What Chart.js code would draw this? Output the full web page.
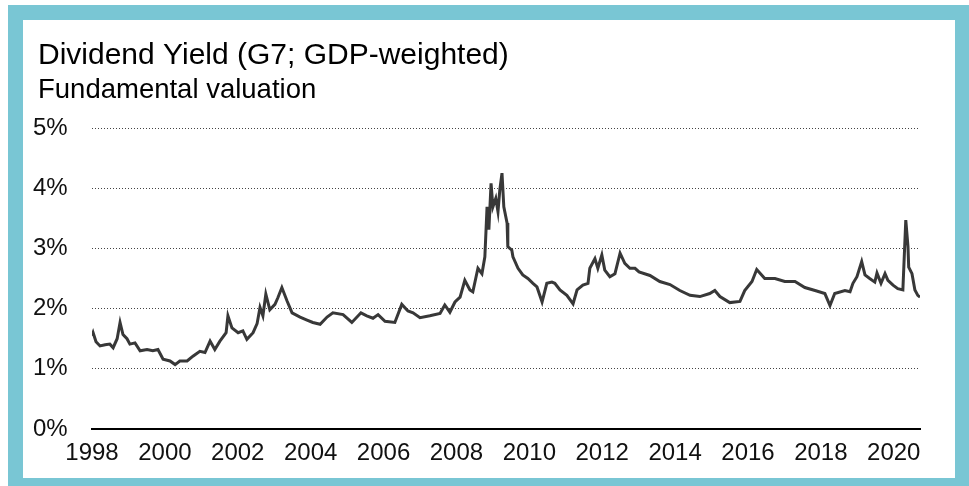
<!DOCTYPE html>
<html>
<head>
<meta charset="utf-8">
<script src="https://cdn.jsdelivr.net/npm/chart.js@4.4.1/dist/chart.umd.min.js"></script>
<style>
  body { margin: 0; width: 969px; height: 486px; overflow: hidden; background: #fff; position: relative; }
  #frame { position: absolute; left: 8px; top: 5px; width: 1000px; height: 520px; background: #79c6d4; }
  #inner { position: absolute; left: 23px; top: 20px; width: 932px; height: 458px; background: #fff; }
  #yieldChart { position: absolute; left: 23px; top: 20px; }
</style>
</head>
<body>
<div id="frame"></div>
<div id="inner"></div>
<canvas id="yieldChart" width="932" height="458"></canvas>
<script>
var titleText = 'Dividend Yield (G7; GDP-weighted)'
var subtitleText = 'Fundamental valuation'

// dates as decimal years, values in percent
var dates = [
  1998.00, 1998.03, 1998.11, 1998.22, 1998.36, 1998.49, 1998.58, 1998.69, 1998.77, 1998.85,
  1998.96, 1999.04, 1999.18, 1999.32, 1999.51, 1999.67, 1999.81, 1999.95, 2000.14, 2000.28,
  2000.41, 2000.61, 2000.77, 2000.96, 2001.10, 2001.24, 2001.37, 2001.51, 2001.68, 2001.73,
  2001.84, 2002.01, 2002.14, 2002.25, 2002.42, 2002.53, 2002.61, 2002.69, 2002.77, 2002.88,
  2003.02, 2003.10, 2003.21, 2003.35, 2003.49, 2003.71, 2003.90, 2004.06, 2004.26, 2004.45,
  2004.61, 2004.89, 2005.13, 2005.38, 2005.54, 2005.71, 2005.85, 2006.04, 2006.31, 2006.50,
  2006.67, 2006.81, 2007.00, 2007.27, 2007.55, 2007.68, 2007.82, 2007.96, 2008.10, 2008.23,
  2008.37, 2008.45, 2008.59, 2008.70, 2008.78, 2008.84, 2008.89, 2008.95, 2009.00, 2009.08,
  2009.14, 2009.19, 2009.25, 2009.30, 2009.39, 2009.41, 2009.52, 2009.55, 2009.69, 2009.82,
  2009.96, 2010.10, 2010.21, 2010.35, 2010.48, 2010.62, 2010.70, 2010.84, 2011.03, 2011.20,
  2011.31, 2011.47, 2011.61, 2011.66, 2011.80, 2011.88, 2011.99, 2012.07, 2012.21, 2012.35,
  2012.49, 2012.62, 2012.76, 2012.90, 2013.01, 2013.31, 2013.58, 2013.86, 2014.13, 2014.41,
  2014.68, 2014.95, 2015.09, 2015.23, 2015.50, 2015.78, 2015.91, 2016.11, 2016.24, 2016.46,
  2016.74, 2017.01, 2017.29, 2017.56, 2017.84, 2018.11, 2018.25, 2018.38, 2018.66, 2018.80,
  2018.88, 2018.99, 2019.12, 2019.21, 2019.34, 2019.48, 2019.54, 2019.65, 2019.76, 2019.84,
  2019.98, 2020.11, 2020.25, 2020.33, 2020.39, 2020.41, 2020.50, 2020.58, 2020.66, 2020.72
]
var yields = [
  1.55, 1.60, 1.45, 1.38, 1.40, 1.41, 1.35, 1.50, 1.77, 1.57,
  1.50, 1.41, 1.43, 1.30, 1.32, 1.30, 1.32, 1.16, 1.13, 1.07,
  1.13, 1.13, 1.21, 1.29, 1.27, 1.46, 1.32, 1.46, 1.60, 1.88,
  1.68, 1.60, 1.63, 1.49, 1.60, 1.75, 2.02, 1.88, 2.24, 1.98,
  2.07, 2.18, 2.35, 2.13, 1.93, 1.86, 1.81, 1.77, 1.74, 1.86,
  1.93, 1.90, 1.77, 1.93, 1.88, 1.84, 1.90, 1.79, 1.77, 2.07,
  1.96, 1.93, 1.85, 1.88, 1.92, 2.06, 1.94, 2.11, 2.19, 2.47,
  2.31, 2.28, 2.67, 2.58, 2.86, 3.69, 3.31, 4.08, 3.69, 3.83,
  3.61, 3.97, 4.25, 3.69, 3.42, 3.03, 2.97, 2.86, 2.67, 2.56,
  2.50, 2.42, 2.36, 2.11, 2.42, 2.44, 2.42, 2.31, 2.22, 2.08,
  2.31, 2.39, 2.42, 2.67, 2.83, 2.67, 2.89, 2.64, 2.53, 2.58,
  2.92, 2.75, 2.67, 2.67, 2.61, 2.55, 2.45, 2.40, 2.30, 2.22,
  2.20, 2.25, 2.30, 2.20, 2.10, 2.12, 2.30, 2.45, 2.65, 2.50,
  2.50, 2.45, 2.45, 2.35, 2.30, 2.25, 2.05, 2.25, 2.30, 2.28,
  2.42, 2.53, 2.78, 2.56, 2.50, 2.44, 2.59, 2.42, 2.58, 2.47,
  2.39, 2.33, 2.31, 3.47, 3.03, 2.69, 2.58, 2.31, 2.22, 2.19
]
var yearTicks = [1998, 2000, 2002, 2004, 2006, 2008, 2010, 2012, 2014, 2016, 2018, 2020]
var pctTicks = [0, 1, 2, 3, 4, 5]

var fontName = '"Liberation Sans", Arial, sans-serif'

// title and subtitle drawn top-left of the canvas
var headings = {
  id: 'headings',
  afterDraw(chart){
    var ctx = chart.ctx
    ctx.save()
    ctx.fillStyle = '#000'
    ctx.textAlign = 'left'
    ctx.textBaseline = 'alphabetic'
    ctx.font = `30px ${fontName}`
    ctx.fillText(titleText, 15, 44)
    ctx.font = `27.5px ${fontName}`
    ctx.fillText(subtitleText, 15, 78)
    ctx.restore()
  }
}

var points = []
for(var pos = 0; pos < dates.length; pos++){
  points.push({x: dates[pos], y: yields[pos]})
}

new Chart(document.getElementById('yieldChart'), {
  type: 'line',
  data: {
    datasets: [{
      data: points,
      borderColor: '#383838',
      borderWidth: 3,
      pointRadius: 0,
      tension: 0
    }]
  },
  options: {
    responsive: false,
    animation: false,
    devicePixelRatio: 1,
    layout: { padding: { left: 10, top: 108, right: 35, bottom: 0 } },
    plugins: {
      legend: { display: false },
      tooltip: { enabled: false }
    },
    scales: {
      x: {
        type: 'linear',
        min: 1998,
        max: 2020.72,
        afterBuildTicks: (scale) => { scale.ticks = yearTicks.map(v => ({value: v})) },
        afterFit: (scale) => { scale.height = 49 },
        grid: { display: false, drawTicks: false },
        border: { display: true, color: '#000', width: 2 },
        ticks: {
          color: '#111',
          font: { family: fontName, size: 24 },
          padding: 10,
          maxRotation: 0,
          autoSkip: false,
          callback: (v) => String(v)
        }
      },
      y: {
        min: 0,
        max: 5,
        afterBuildTicks: (scale) => { scale.ticks = pctTicks.map(v => ({value: v})) },
        afterFit: (scale) => { scale.width = 59 },
        grid: { color: '#444', lineWidth: 1, drawTicks: false },
        border: { display: false, dash: [1, 2] },
        ticks: {
          color: '#111',
          font: { family: fontName, size: 24 },
          crossAlign: 'far',
          callback: (v) => v + '%'
        }
      }
    }
  },
  plugins: [headings]
})
</script>
</body>
</html>
